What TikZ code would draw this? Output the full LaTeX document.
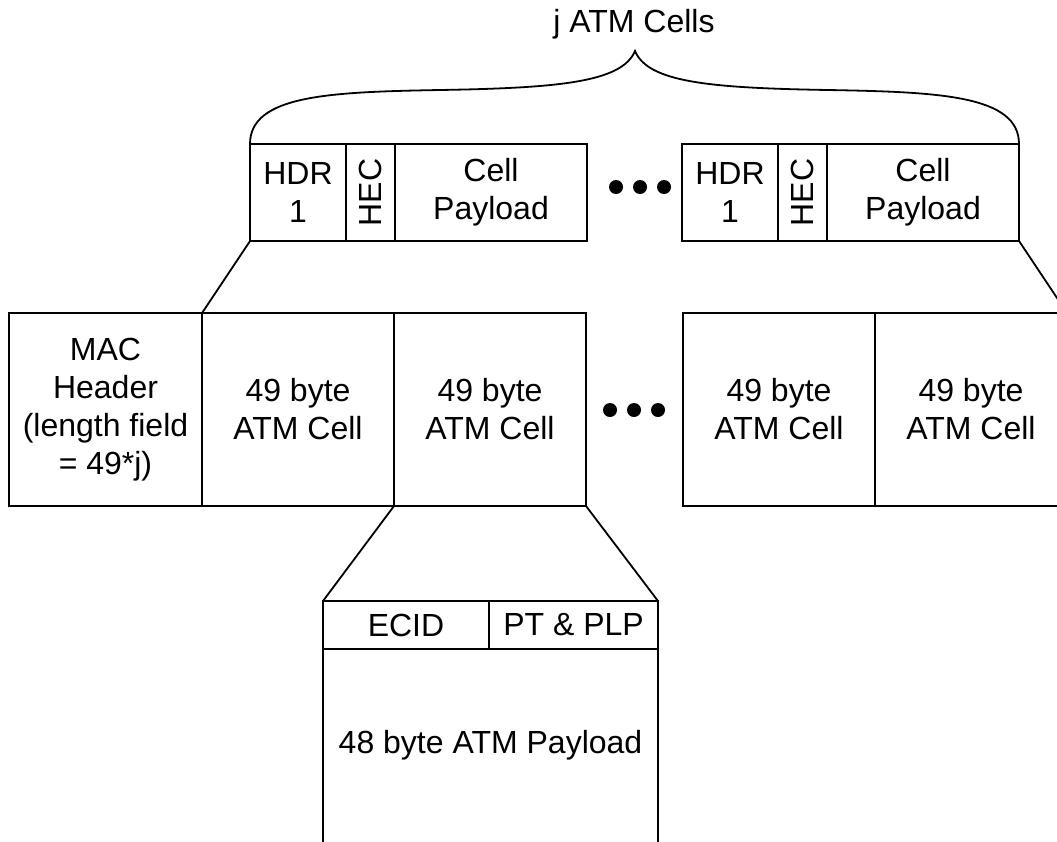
\documentclass[tikz,border=0pt]{standalone}
\usepackage{fontspec}
\setmainfont{Liberation Sans}
\begin{document}
\begin{tikzpicture}[x=1pt,y=-1pt,line width=1.8pt,
  cell/.style={draw,rectangle,inner sep=0pt,outer sep=0pt,align=center,font=\fontsize{32}{38}\selectfont},
  lbl/.style={inner sep=0pt,align=center,font=\fontsize{32}{38}\selectfont},
  dotmark/.style={circle,fill,inner sep=0pt,minimum size=14pt}]
\useasboundingbox (0,0) rectangle (1057,841);
\clip (0,0) rectangle (1057,841);
% top row, left group
\node[cell,minimum width=96pt,minimum height=97pt] (hdrA) at (298,192.5) {HDR\\1};
\node[cell,minimum width=49pt,minimum height=97pt] (hecA) at (370.5,192.5) {};
\node[lbl,rotate=90] (hecAt) at (hecA.center) {HEC};
\node[cell,minimum width=192pt,minimum height=97pt] (payA) at (491,192.5) {Cell\\Payload};
% top dots
\node[dotmark] (td1) at (616,187) {};
\node[dotmark] (td2) at (640,187) {};
\node[dotmark] (td3) at (664,187) {};
% top row, right group
\node[cell,minimum width=96pt,minimum height=97pt] (hdrB) at (730,192.5) {HDR\\1};
\node[cell,minimum width=49pt,minimum height=97pt] (hecB) at (802.5,192.5) {};
\node[lbl,rotate=90] (hecBt) at (hecB.center) {HEC};
\node[cell,minimum width=192pt,minimum height=97pt] (payB) at (923,192.5) {Cell\\Payload};
% brace
\coordinate (tip) at (635,51);
\draw (hdrA.north west) .. controls (250,95) and (330,92) .. (440,90)
      .. controls (560,88) and (622,82) .. (tip)
      .. controls (648,82) and (708,88) .. (828,90)
      .. controls (938,92) and (1019,95) .. (payB.north east);
\node[lbl,anchor=base] (jlabel) at (634,32) {j ATM Cells};
% middle row
\node[cell,minimum width=193pt,minimum height=193pt] (mac) at (105.5,409.5) {MAC\\Header\\(length field\\= 49*j)};
\node[cell,minimum width=192pt,minimum height=193pt] (c1) at (298,409.5) {49 byte\\ATM Cell};
\node[cell,minimum width=192pt,minimum height=193pt] (c2) at (490,409.5) {49 byte\\ATM Cell};
\node[dotmark] (md1) at (610,410) {};
\node[dotmark] (md2) at (634,410) {};
\node[dotmark] (md3) at (658,410) {};
\node[cell,minimum width=192pt,minimum height=193pt] (c3) at (779,409.5) {49 byte\\ATM Cell};
\node[cell,minimum width=192pt,minimum height=193pt] (c4) at (971,409.5) {49 byte\\ATM Cell};
% connectors
\draw (hdrA.south west) -- (c1.north west);
\draw (payB.south east) -- (c4.north east);
% bottom
\node[cell,minimum width=166pt,minimum height=48pt] (ecid) at (406,625) {ECID};
\node[cell,minimum width=169pt,minimum height=48pt] (ptplp) at (573.5,625) {PT \& PLP};
\node[lbl,minimum width=335pt,minimum height=192pt] (payload) at (490.5,745) {48 byte ATM Payload};
\draw (ecid.south west) -- (ecid.south west |- 0,860);
\draw (ptplp.south east) -- (ptplp.south east |- 0,860);
\draw (c2.south west) -- (ecid.north west);
\draw (c2.south east) -- (ptplp.north east);
\end{tikzpicture}
\end{document}
